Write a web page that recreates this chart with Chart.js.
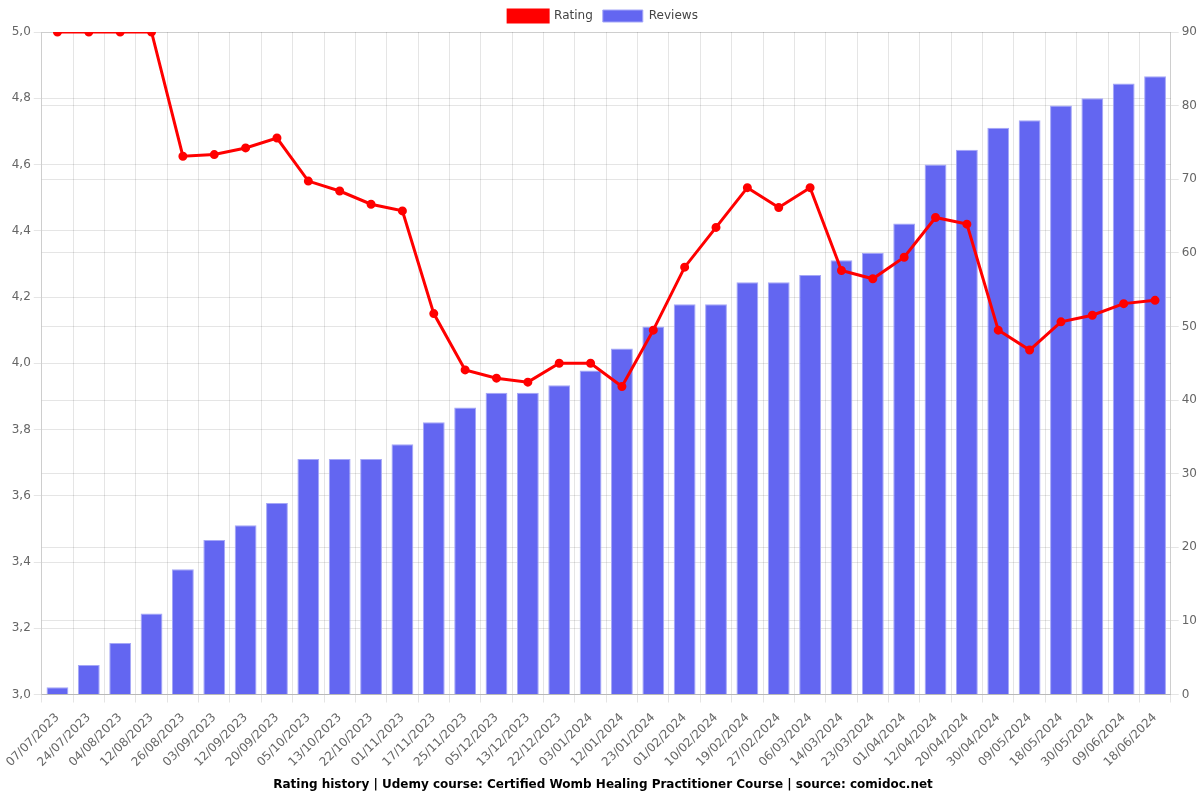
<!DOCTYPE html>
<html>
<head>
<meta charset="utf-8">
<script src="https://cdn.jsdelivr.net/npm/chart.js@4"></script>
<style>
  html, body { margin: 0; padding: 0; background: #fff; }
  #wrap { width: 1200px; height: 800px; }
</style>
</head>
<body>
<div id="wrap"><canvas id="chart"></canvas></div>
<script>
const labels = [
  '07/07/2023', '24/07/2023', '04/08/2023', '12/08/2023', '26/08/2023', '03/09/2023',
  '12/09/2023', '20/09/2023', '05/10/2023', '13/10/2023', '22/10/2023', '01/11/2023',
  '17/11/2023', '25/11/2023', '05/12/2023', '13/12/2023', '22/12/2023', '03/01/2024',
  '12/01/2024', '23/01/2024', '01/02/2024', '10/02/2024', '19/02/2024', '27/02/2024',
  '06/03/2024', '14/03/2024', '23/03/2024', '01/04/2024', '12/04/2024', '20/04/2024',
  '30/04/2024', '09/05/2024', '18/05/2024', '30/05/2024', '09/06/2024', '18/06/2024'
];

const rating = [
  5.0, 5.0, 5.0, 5.0, 4.625, 4.63, 4.65, 4.68, 4.55, 4.52, 4.48, 4.46,
  4.15, 3.98, 3.955, 3.943, 4.0, 4.0, 3.93, 4.1, 4.29, 4.41, 4.53, 4.47,
  4.53, 4.28, 4.255, 4.32, 4.44, 4.42, 4.1, 4.04, 4.125, 4.145, 4.18, 4.19
];

const reviews = [
  1, 4, 7, 11, 17, 21, 23, 26, 32, 32, 32, 34,
  37, 39, 41, 41, 42, 44, 47, 50, 53, 53, 56, 56,
  57, 59, 60, 64, 72, 74, 77, 78, 80, 81, 83, 84
];

Chart.defaults.font.family = 'DejaVu Sans';
Chart.defaults.font.size = 12;
Chart.defaults.color = '#666';

const ctx = document.getElementById('chart').getContext('2d');

new Chart(ctx, {
  data: {
    labels,
    datasets: [
      {
        type: 'line',
        label: 'Rating',
        data: rating,
        yAxisID: 'y',
        borderColor: '#ff0000',
        backgroundColor: '#ff0000',
        borderWidth: 3,
        pointRadius: 3,
        pointBackgroundColor: '#ff0000',
        tension: 0,
        order: 0,
      },
      {
        type: 'bar',
        label: 'Reviews',
        data: reviews,
        yAxisID: 'y1',
        backgroundColor: '#6366f1',
        borderColor: '#a5a7f7',
        borderWidth: 1,
        categoryPercentage: 0.8,
        barPercentage: 0.87,
        order: 1,
      },
    ],
  },
  options: {
    responsive: true,
    maintainAspectRatio: false,
    animation: false,
    layout: { padding: { left: 6 } },
    plugins: {
      legend: {
        position: 'top',
        labels: { boxWidth: 40, boxHeight: 12, color: '#444' },
      },
      title: {
        display: true,
        position: 'bottom',
        text: 'Rating history | Udemy course: Certified Womb Healing Practitioner Course | source: comidoc.net',
        color: '#000',
        font: { size: 12, weight: 'bold' },
        padding: { top: 0, bottom: 8 },
      },
      tooltip: { enabled: false },
    },
    scales: {
      x: {
        grid: { color: 'rgba(0,0,0,0.1)' },
        ticks: { maxRotation: 45, minRotation: 45, autoSkip: false, padding: 8, color: '#666' },
      },
      y: {
        position: 'left',
        min: 3,
        max: 5,
        ticks: {
          stepSize: 0.2,
          callback: v => v.toFixed(1).replace('.', ','),
        },
        grid: { color: 'rgba(0,0,0,0.1)' },
      },
      y1: {
        position: 'right',
        min: 0,
        max: 90,
        ticks: { stepSize: 10 },
        grid: { color: 'rgba(0,0,0,0.1)' },
      },
    },
  },
});
</script>
</body>
</html>
